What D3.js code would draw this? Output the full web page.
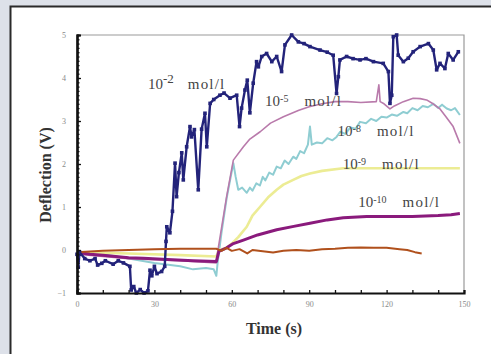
<!DOCTYPE html>
<html>
<head>
<meta charset="utf-8">
<script src="https://cdn.jsdelivr.net/npm/d3@7"></script>
<style>
  body { margin: 0; background: #dde1e9; }
  svg { display: block; }
</style>
</head>
<body>
<div id="chart"></div>
<script>
// [time (s), deflection (V)]
const conc2 = [[0,-0.1],[0.5,-0.4],[1,-0.05],[3,-0.2],[5,-0.25],[7,-0.2],[8,-0.35],[9.6,-0.31],[11,-0.25],[14,-0.33],[16,-0.25],[18,-0.3],[20.5,-0.38],[21,-0.93],[22,-0.85],[23,-1.0],[24.5,-0.92],[26,-1.0],[27.5,-0.95],[28.3,-0.47],[29,-0.6],[30,-0.38],[31,-0.55],[32.8,-0.5],[34,-0.38],[34.5,0.2],[34.8,0.54],[36,0.4],[37,0.9],[38,2.02],[38.6,1.24],[39.5,1.8],[40.6,2.26],[41.2,1.63],[42.5,2.4],[43.8,2.87],[44.4,2.63],[45.5,2.8],[47,1.4],[48.3,2.81],[49.6,3.18],[50.3,2.4],[51.6,3.41],[53,3.5],[55.4,3.6],[57,3.65],[59.3,3.53],[61.9,3.6],[63,2.87],[63.8,3.3],[65.1,3.72],[66,3.95],[67,3.19],[68.3,3.88],[69.6,4.38],[70.3,4.26],[71.6,4.5],[73.5,4.57],[75.5,4.38],[77.4,4.5],[79.3,4.15],[80.6,4.77],[83.2,5.0],[85.8,4.84],[88,4.8],[90.3,4.73],[94.2,4.65],[97,4.6],[99.3,4.53],[100.6,3.64],[101.3,4.03],[101.9,4.42],[104.5,4.5],[107,4.45],[109.7,4.42],[112,4.45],[114.9,4.38],[118.7,4.34],[120.7,4.15],[121.3,3.41],[122,3.6],[122.6,4.96],[123.9,5.0],[124.5,4.53],[126.5,4.38],[128.4,4.46],[130.3,4.61],[133,4.73],[136.2,4.8],[138.1,4.65],[139.4,4.19],[140.7,4.34],[142.6,4.22],[143.9,4.57],[145.8,4.42],[147.8,4.61]];

const conc5 = [[0,-0.1],[20,-0.2],[40,-0.25],[54,-0.3],[54.5,-0.05],[56,0.5],[58,1.24],[60.6,2.09],[64.5,2.4],[67,2.58],[71,2.75],[75,2.95],[80,3.1],[86,3.25],[90,3.33],[95,3.4],[100,3.45],[105,3.45],[110,3.43],[116,3.45],[117,3.84],[117.5,3.45],[119,3.4],[121.3,3.28],[123,3.35],[126.5,3.45],[130.3,3.53],[133,3.52],[135.5,3.49],[138,3.4],[140.7,3.28],[143,3.1],[145.8,2.87],[148.4,2.48]];

const conc8 = [[0,-0.05],[10,-0.1],[20,-0.2],[30,-0.3],[40,-0.38],[45,-0.45],[50,-0.42],[53,-0.45],[54,-0.6],[54.5,-0.3],[56,0.4],[58,1.2],[60.6,2.02],[61.5,1.7],[62.5,1.4],[64,1.45],[65.8,1.33],[67,1.45],[68,1.38],[69.5,1.55],[70.9,1.5],[72,1.7],[73,1.62],[74.5,1.8],[76,1.75],[77.4,1.94],[79,1.9],[80.5,2.08],[82,2.0],[83.8,2.17],[85,2.12],[86.5,2.3],[88,2.25],[89.5,2.45],[90.3,2.87],[91,2.45],[93,2.5],[95,2.48],[97,2.6],[99,2.55],[100.6,2.63],[102,2.75],[104,2.7],[106,2.85],[108,2.82],[109.7,2.98],[112,2.95],[114,3.05],[116,3.0],[118,3.1],[120,3.08],[122,3.15],[124,3.12],[126.5,3.21],[128,3.18],[130,3.3],[132,3.25],[134,3.35],[136,3.32],[138.1,3.4],[140,3.3],[141.5,3.38],[143.3,3.29],[145,3.25],[146.5,3.3],[148.4,3.14]];

const conc9 = [[0,-0.05],[20,-0.08],[40,-0.12],[54,-0.15],[55,0],[58,0.05],[60,0.15],[62.5,0.3],[65.8,0.54],[68,0.8],[70.9,1.0],[74,1.22],[77.4,1.4],[80,1.52],[83.8,1.63],[87,1.72],[90.3,1.78],[95,1.84],[103.2,1.9],[115,1.9],[130,1.9],[148.4,1.9]];

const conc10 = [[0,-0.05],[5,-0.1],[10,-0.12],[20,-0.18],[25.7,-0.19],[35,-0.22],[45,-0.25],[54,-0.27],[55,-0.03],[58,0.05],[60.6,0.15],[64.5,0.23],[70,0.35],[77.4,0.47],[84,0.55],[90.3,0.62],[97,0.7],[103.2,0.75],[112.3,0.78],[120,0.78],[130,0.78],[140,0.8],[145,0.82],[148.4,0.85]];

const blank = [[0,-0.05],[10,-0.02],[20,0],[30,0.02],[40,0.03],[54,0.03],[56,-0.02],[58,0.05],[60,-0.02],[63,0.02],[66,-0.08],[68,0.0],[72,-0.03],[76,-0.06],[80,-0.02],[85,0.0],[90,-0.02],[95,0.02],[100,0.03],[105,0.05],[110,0.06],[115,0.05],[120,0.05],[125,0.02],[128,0.0],[131,-0.05],[133.6,-0.08]];

const xTicks = [0, 30, 60, 90, 120, 150];
const yTicks = [-1, 0, 1, 2, 3, 4, 5];

// exponent of each curve label, anchored at [time, value] of its baseline
const labels = [
  { exp: "-2", at: [27.5, 3.74], big: true },
  { exp: "-5", at: [72.9, 3.35] },
  { exp: "-8", at: [101, 2.65] },
  { exp: "-9", at: [103, 1.88] },
  { exp: "-10", at: [109, 0.99] }
];

const W = 491, H = 354;
const svg = d3.select("#chart").append("svg")
  .attr("width", W).attr("height", H);

// white panel with dark frame
svg.append("rect")
  .attr("x", 10.5).attr("y", 6.5)
  .attr("width", W + 20).attr("height", H + 20)
  .attr("fill", "#fff").attr("stroke", "#2a2a2a").attr("stroke-width", 2);

const x = d3.scaleLinear().domain([0, 150]).range([77, 464]);
const y = d3.scaleLinear().domain([-1, 5]).range([293, 35]);

// grey top / right border
svg.append("path")
  .attr("d", `M${x(0)},${y(5)}H${x(150)}V${y(-1)}`)
  .attr("fill", "none").attr("stroke", "#9a9a9a").attr("stroke-width", 1.2);

const line = d3.line().x(d => x(d[0])).y(d => y(d[1]));

const series = [
  { data: conc8, color: "#8fcdd2", w: 2 },
  { data: conc9, color: "#ecec94", w: 2.6 },
  { data: conc5, color: "#b97aab", w: 1.6 },
  { data: conc10, color: "#8a1a7c", w: 3 },
  { data: conc2, color: "#23237a", w: 2.4 },
  { data: blank, color: "#b0501c", w: 2 }
];

series.forEach(s => {
  svg.append("path")
    .datum(s.data)
    .attr("d", line)
    .attr("fill", "none")
    .attr("stroke", s.color)
    .attr("stroke-width", s.w)
    .attr("stroke-linejoin", "round");
});

svg.append("g").selectAll("rect")
  .data(conc2)
  .enter().append("rect")
  .attr("x", d => x(d[0]) - 1.8)
  .attr("y", d => y(d[1]) - 1.8)
  .attr("width", 3.6).attr("height", 3.6)
  .attr("fill", "#23237a");

// axes
const xAxis = svg.append("g")
  .attr("transform", `translate(0,${y(-1)})`)
  .call(d3.axisBottom(x)
    .tickValues(d3.range(0, 151, 10))
    .tickSize(-3).tickPadding(8)
    .tickFormat(d => xTicks.includes(d) ? d : ""));

const yMinor = svg.append("g")
  .attr("transform", `translate(${x(0)},0)`)
  .call(d3.axisLeft(y)
    .tickValues(d3.range(-10, 51).map(d => d / 10))
    .tickSize(-2.5).tickFormat(""));

const yAxis = svg.append("g")
  .attr("transform", `translate(${x(0)},0)`)
  .call(d3.axisLeft(y)
    .tickValues(yTicks)
    .tickSize(-4).tickPadding(11)
    .tickFormat(d3.format("d")));

[xAxis, yMinor, yAxis].forEach(g => {
  g.select(".domain").attr("stroke", "#111").attr("stroke-width", 2.2);
  g.selectAll(".tick line").attr("stroke", "#111").attr("stroke-width", 1.3);
  g.selectAll("text")
    .attr("fill", "#8a8a8a")
    .style("font-family", "'Liberation Serif', 'DejaVu Serif', serif")
    .style("font-size", "8px");
});

// axis titles
svg.append("text")
  .attr("x", 274).attr("y", 334)
  .attr("text-anchor", "middle")
  .attr("fill", "#333")
  .style("font-family", "'Liberation Serif', serif")
  .style("font-weight", "bold")
  .style("font-size", "16px")
  .text("Time (s)");

svg.append("text")
  .attr("transform", "translate(51,175) rotate(-90)")
  .attr("text-anchor", "middle")
  .attr("fill", "#333")
  .style("font-family", "'Liberation Serif', serif")
  .style("font-weight", "bold")
  .style("font-size", "16px")
  .text("Deflection (V)");

// curve labels
labels.forEach(l => {
  const t = svg.append("text")
    .attr("x", x(l.at[0])).attr("y", y(l.at[1]))
    .attr("fill", "#444")
    .style("font-family", "'Liberation Serif', serif")
    .style("font-size", "15px");
  t.append("tspan").text("10");
  t.append("tspan")
    .attr("dy", l.big ? -6 : -4)
    .style("font-size", l.big ? "13px" : "10px")
    .text(l.exp);
  t.append("tspan")
    .attr("dx", l.big ? 14 : 16).attr("dy", l.big ? 6 : 4)
    .style("letter-spacing", "1.2px")
    .text("mol/l");
});
</script>
</body>
</html>
